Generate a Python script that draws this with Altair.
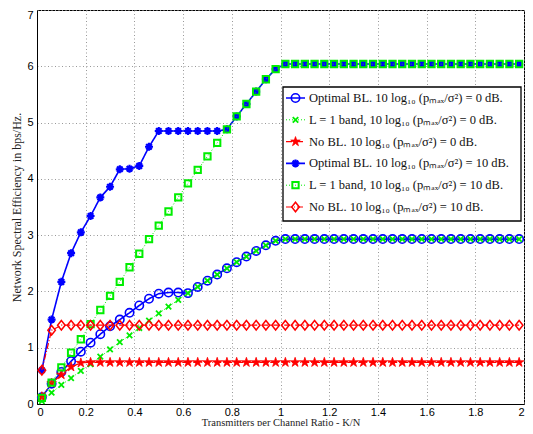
import altair as alt
import pandas as pd

# ---------------- data ----------------
x_vals = [0.02, 0.06, 0.10, 0.14, 0.18, 0.22, 0.26, 0.30, 0.34, 0.38,
          0.42, 0.46, 0.50, 0.54, 0.58, 0.62, 0.66, 0.70, 0.74, 0.78,
          0.82, 0.86, 0.90, 0.94, 0.98, 1.02, 1.06, 1.10, 1.14, 1.18,
          1.22, 1.26, 1.30, 1.34, 1.38, 1.42, 1.46, 1.50, 1.54, 1.58,
          1.62, 1.66, 1.70, 1.74, 1.78, 1.82, 1.86, 1.90, 1.94, 1.98]

opt_0db = [0.12, 0.36, 0.57, 0.76, 0.93, 1.09, 1.24, 1.38, 1.50, 1.62,
           1.75, 1.87, 1.96, 1.98, 1.98, 1.97, 2.08, 2.19, 2.30, 2.41,
           2.52, 2.62, 2.72, 2.82, 2.90, 2.93, 2.93, 2.93, 2.93, 2.93,
           2.93, 2.93, 2.93, 2.93, 2.93, 2.93, 2.93, 2.93, 2.93, 2.93,
           2.93, 2.93, 2.93, 2.93, 2.93, 2.93, 2.93, 2.93, 2.93, 2.93]

l1_0db = [0.05, 0.20, 0.34, 0.46, 0.59, 0.71, 0.84, 0.97, 1.10, 1.22,
          1.35, 1.48, 1.61, 1.73, 1.85, 1.97, 2.08, 2.19, 2.30, 2.41,
          2.52, 2.62, 2.72, 2.82, 2.90, 2.93, 2.93, 2.93, 2.93, 2.93,
          2.93, 2.93, 2.93, 2.93, 2.93, 2.93, 2.93, 2.93, 2.93, 2.93,
          2.93, 2.93, 2.93, 2.93, 2.93, 2.93, 2.93, 2.93, 2.93, 2.93]

nobl_0db = [0.13, 0.37, 0.52, 0.66, 0.73, 0.74, 0.74, 0.74, 0.74, 0.74,
            0.74, 0.74, 0.74, 0.74, 0.74, 0.74, 0.74, 0.74, 0.74, 0.74,
            0.74, 0.74, 0.74, 0.74, 0.74, 0.74, 0.74, 0.74, 0.74, 0.74,
            0.74, 0.74, 0.74, 0.74, 0.74, 0.74, 0.74, 0.74, 0.74, 0.74,
            0.74, 0.74, 0.74, 0.74, 0.74, 0.74, 0.74, 0.74, 0.74, 0.74]

opt_10db = [0.60, 1.50, 2.17, 2.68, 3.05, 3.34, 3.67, 3.86, 4.17, 4.18,
            4.23, 4.57, 4.85, 4.85, 4.85, 4.85, 4.85, 4.85, 4.85, 4.88,
            5.11, 5.33, 5.55, 5.77, 5.95, 6.04, 6.04, 6.04, 6.04, 6.04,
            6.04, 6.04, 6.04, 6.04, 6.04, 6.04, 6.04, 6.04, 6.04, 6.04,
            6.04, 6.04, 6.04, 6.04, 6.04, 6.04, 6.04, 6.04, 6.04, 6.04]

l1_10db = [0.11, 0.38, 0.65, 0.91, 1.15, 1.42, 1.67, 1.92, 2.17, 2.43,
           2.67, 2.93, 3.17, 3.42, 3.67, 3.92, 4.16, 4.40, 4.64, 4.88,
           5.11, 5.33, 5.55, 5.77, 5.95, 6.04, 6.04, 6.04, 6.04, 6.04,
           6.04, 6.04, 6.04, 6.04, 6.04, 6.04, 6.04, 6.04, 6.04, 6.04,
           6.04, 6.04, 6.04, 6.04, 6.04, 6.04, 6.04, 6.04, 6.04, 6.04]

nobl_10db = [0.60, 1.31, 1.40, 1.40, 1.40, 1.40, 1.40, 1.40, 1.40, 1.40,
             1.40, 1.40, 1.40, 1.40, 1.40, 1.40, 1.40, 1.40, 1.40, 1.40,
             1.40, 1.40, 1.40, 1.40, 1.40, 1.40, 1.40, 1.40, 1.40, 1.40,
             1.40, 1.40, 1.40, 1.40, 1.40, 1.40, 1.40, 1.40, 1.40, 1.40,
             1.40, 1.40, 1.40, 1.40, 1.40, 1.40, 1.40, 1.40, 1.40, 1.40]

series_values = [opt_0db, l1_0db, nobl_0db, opt_10db, l1_10db, nobl_10db]

legend_labels = [
    "Optimal BL. 10 log\u2081\u2080 (p\u2098\u2090\u2093/\u03c3\u00b2) = 0 dB.",
    "L = 1 band, 10 log\u2081\u2080 (p\u2098\u2090\u2093/\u03c3\u00b2) = 0 dB.",
    "No BL. 10 log\u2081\u2080 (p\u2098\u2090\u2093/\u03c3\u00b2) = 0 dB.",
    "Optimal BL. 10 log\u2081\u2080 (p\u2098\u2090\u2093/\u03c3\u00b2) = 10 dB.",
    "L = 1 band, 10 log\u2081\u2080 (p\u2098\u2090\u2093/\u03c3\u00b2) = 10 dB.",
    "No BL. 10 log\u2081\u2080 (p\u2098\u2090\u2093/\u03c3\u00b2) = 10 dB.",
]

x_ticks = [0, 0.2, 0.4, 0.6, 0.8, 1.0, 1.2, 1.4, 1.6, 1.8, 2.0]
y_ticks = [0, 1, 2, 3, 4, 5, 6, 7]

# ---------------- styles ----------------
STAR = ("M0,-1L0.2245,-0.309L0.951,-0.309L0.363,0.118L0.588,0.809L0,0.382"
        "L-0.588,0.809L-0.363,0.118L-0.951,-0.309L-0.2245,-0.309Z")
XMARK = "M-1,-1L1,1M-1,1L1,-1"
AST = "M0,-1L0,1M-1,0L1,0M-0.7,-0.7L0.7,0.7M-0.7,0.7L0.7,-0.7"
DIAM = "M0,-1L0.8,0L0,1L-0.8,0Z"

BLUE, GREEN, RED = "#0000ff", "#00ee00", "#ff0000"
styles = [
    dict(color=BLUE, dash=[1, 0], lw=1.6, shape="circle", filled=False, size=70, sw=1.6),
    dict(color=GREEN, dash=[1, 2], lw=1.0, shape=XMARK, filled=False, size=30, sw=1.8),
    dict(color=RED, dash=[6, 2, 1, 2], lw=1.2, shape=STAR, filled=True, size=100, sw=0.8),
    dict(color=BLUE, dash=[1, 0], lw=1.6, shape=AST, filled=False, size=64, sw=2.2),
    dict(color=GREEN, dash=[1, 2], lw=1.0, shape="square", filled=False, size=40, sw=2.0),
    dict(color=RED, dash=[6, 2, 1, 2], lw=1.2, shape=DIAM, filled=False, size=90, sw=1.5),
]

xs = alt.Scale(domain=[0, 2], nice=False, zero=False)
ys = alt.Scale(domain=[0, 7], nice=False)

layers = []
for i, (vals, st) in enumerate(zip(series_values, styles)):
    df = pd.DataFrame({"x": x_vals, "y": vals})
    base = alt.Chart(df)
    enc = dict(
        x=alt.X("x:Q", scale=xs,
                axis=alt.Axis(values=x_ticks, format="~g",
                              title="Transmitters per Channel Ratio - K/N")),
        y=alt.Y("y:Q", scale=ys,
                axis=alt.Axis(values=y_ticks, format="~g",
                              labelOffset={"condition": {"test": "datum.value == 7", "value": 5},
                                           "value": 0},
                              title="Network Spectral Efficiency in bps/Hz.")),
    )
    line = base.mark_line(color=st["color"], strokeDash=st["dash"],
                          strokeWidth=st["lw"], clip=True).encode(**enc)
    if st["filled"]:
        pts = base.mark_point(shape=st["shape"], filled=True, fill=st["color"],
                              stroke=st["color"], strokeWidth=st["sw"],
                              size=st["size"], opacity=1).encode(**enc)
    else:
        pts = base.mark_point(shape=st["shape"], filled=False, stroke=st["color"],
                              strokeWidth=st["sw"], size=st["size"],
                              opacity=1).encode(**enc)
    layers += [line, pts]

# ---------------- legend ----------------
one = pd.DataFrame({"a": [0]})
box = alt.Chart(one).mark_rect(fill="white", stroke="black", strokeWidth=1.3).encode(
    x=alt.value(246), x2=alt.value(484), y=alt.value(77), y2=alt.value(211))
layers.append(box)
for i, (lab, st) in enumerate(zip(legend_labels, styles)):
    py = 88 + 21.8 * i
    seg = alt.Chart(one).mark_rule(color=st["color"], strokeDash=st["dash"],
                                   strokeWidth=st["lw"]).encode(
        x=alt.value(249), x2=alt.value(268), y=alt.value(py))
    if st["filled"]:
        mk = alt.Chart(one).mark_point(shape=st["shape"], filled=True, fill=st["color"],
                                       stroke=st["color"], strokeWidth=st["sw"],
                                       size=st["size"], opacity=1)
    else:
        mk = alt.Chart(one).mark_point(shape=st["shape"], filled=False, stroke=st["color"],
                                       strokeWidth=st["sw"], size=st["size"], opacity=1)
    mk = mk.encode(x=alt.value(258.5), y=alt.value(py))
    txt = alt.Chart(one).mark_text(text=lab, align="left", baseline="middle",
                                   font="Liberation Serif", fontSize=12.5,
                                   color="#111").encode(
        x=alt.value(272), y=alt.value(py))
    layers += [seg, mk, txt]

chart = alt.layer(*layers).properties(
    width=487, height=394,
    autosize=alt.AutoSizeParams(type="none"),
    padding={"left": 29, "top": 2, "right": 1, "bottom": 22},
    background="white",
).configure_view(
    stroke="black", strokeWidth=1
).configure_axis(
    domainColor="black", domainWidth=1,
    grid=True, gridColor="#999999", gridDash=[1, 2.5], gridWidth=1,
    ticks=False, tickSize=0,
    labelFont="Liberation Sans", labelFontSize=11, labelColor="black",
    titleFont="Liberation Serif", titleFontWeight="normal",
    titleColor="#222",
).configure_axisX(
    labelPadding=2, titlePadding=0, titleFontSize=10.5
).configure_axisY(
    labelPadding=4, titlePadding=3, titleFontSize=12
)

chart.save("out.html", embed_options={"renderer": "svg", "actions": False})
